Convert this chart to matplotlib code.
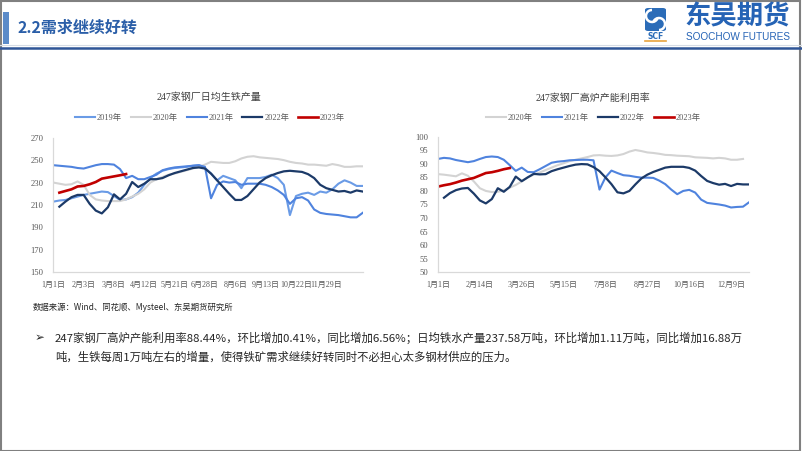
import matplotlib.pyplot as plt
from matplotlib.patches import Rectangle, FancyBboxPatch, Arc
from matplotlib.lines import Line2D
import numpy as np

plt.rcParams['font.family'] = ['Liberation Serif', 'Noto Sans CJK SC', 'DejaVu Sans']

W, H = 802, 451
nan = np.nan

# ---- data: 247 steel mills daily hot metal output (万吨/日), weekly ----
iron_ticks = ['1月1日', '2月3日', '3月8日', '4月12日', '5月21日', '6月28日',
              '8月6日', '9月13日', '10月22日', '11月29日']
iron_2019 = [213, 214, 214.5, 216, 217.5, 219, 220, 221, 222, 221.5,
             218, 214.5, 215, 217, 221, 228, 234, 238, 240.5, 242,
             243, 243.5, 244, 245, 245.5, 243, 238, 232, 236, 234,
             232, 225, 234, 234, 234, 235, 237, 234, 228, 201,
             218, 220, 221, 219, 222, 221, 224, 229, 232, 230,
             227, 227]
iron_2020 = [230, 229, 228, 228.5, 231, 228, 219, 215, 214, 213.5,
             213.5, 213.5, 215, 217.5, 220, 224, 230, 233, 235, 237,
             238, 239.5, 241, 242.5, 244, 246, 248.5, 248, 247.5, 247.5,
             249, 251.5, 253, 253.5, 252.5, 252, 251.5, 251, 250, 248.5,
             247.5, 247, 246, 246, 245.5, 245, 246.5, 245.5, 244, 244,
             244.5, 244.5]
iron_2021 = [245.5, 245, 244.5, 244, 243, 242.5, 244, 245.5, 246.5, 246.5,
             246, 242, 234, 236, 233, 233, 235, 237, 241, 242.5,
             243.5, 244, 244.5, 245, 245.5, 244, 216, 228, 231, 230,
             230.5, 228, 229, 229, 229, 228, 226, 223, 219, 211,
             216, 217, 214, 206, 203, 202, 201.5, 201, 200, 199,
             199, 203]
iron_2022 = [nan, 208.5, 213, 217, 219, 219, 211, 205, 202.5, 208,
             219.5, 215, 220, 230.5, 226, 229, 233, 233, 234, 236.5,
             238.5, 240, 241.5, 243, 243.5, 242.5, 238, 232, 226, 220,
             214.5, 214.5, 218, 224, 230, 234, 236.5, 238.5, 240, 240.5,
             240, 239.5, 237.5, 234, 228, 225, 223.5, 222, 222.5, 221,
             223, 222]
iron_2023 = [nan, 221, 222.5, 224, 226.5, 227, 228.5, 230.5, 233.5, 234.5,
             235.5, 236.5, 237.58]

# ---- data: 247 steel mills blast furnace capacity utilisation (%) ----
util_ticks = ['1月1日', '2月14日', '3月26日', '5月15日', '7月8日', '8月27日',
              '10月16日', '12月9日']
util_2020 = [86.2, 86, 85.7, 85.4, 86.5, 85.6, 83.5, 81, 80, 79.6,
             79.7, 80.2, 81.2, 82.2, 83.5, 85, 86, 86.8, 87.7, 88.6,
             89.5, 90.2, 91, 91.5, 92, 92.5, 93.1, 93.2, 93, 92.9,
             93.1, 93.6, 94.5, 95.1, 94.7, 94.2, 94, 93.7, 93.3, 93.2,
             93, 92.9, 92.8, 92.4, 92.3, 92.2, 92, 92.2, 92, 91.5,
             91.5, 91.8]
util_2021 = [91.8, 92.2, 92, 91.4, 91, 90.6, 91, 91.8, 92.5, 92.7,
             92.5, 91.5, 89.5, 87.4, 88.6, 87, 86.9, 88, 89.2, 90.4,
             90.8, 91, 91.3, 91.4, 91.5, 91.5, 91.3, 80.5, 85, 87.5,
             86.6, 85.8, 85.6, 85.2, 84.9, 84.9, 84.8, 83.8, 82.5, 80.5,
             78.8, 80, 80.4, 79.4, 76.8, 75.6, 75.3, 75, 74.6, 73.9,
             74.1, 74.2, 75.8]
util_2022 = [nan, 77.5, 79.2, 80.3, 80.9, 81.1, 79, 76.5, 75.4, 77,
             81, 79.7, 81.5, 85.3, 83.6, 85, 86.3, 86.1, 86.2, 87.3,
             88, 88.6, 89.2, 89.7, 89.9, 89.8, 88.8, 87.3, 85, 82.5,
             79.5, 79.1, 80, 82.4, 84.6, 86, 87, 87.8, 88.6, 88.9,
             88.9, 88.9, 88.5, 87.5, 85.5, 83.7, 82.9, 82.3, 82.6, 81.8,
             82.6, 82.4, 82.4]
util_2023 = [81.6, 82.1, 82.5, 83.1, 83.8, 84.3, 84.8, 85.7, 86.6, 86.9,
             87.4, 88.0, 88.44]

c2019 = '#6A9BE6'
c2020 = '#D3D3D3'
c2021 = '#4F83DE'
c2022 = '#1C3A68'
c2023 = '#C00000'
tick_col = '#595959'
blue = '#2A5EA8'


def fx(x):
    return x / W


def fy(y):
    return 1 - y / H


fig = plt.figure(figsize=(W / 100, H / 100), dpi=100)
fig.patch.set_facecolor('white')

# slide frame
fig.add_artist(Rectangle((0.001, 0.001), 0.997, 0.997, transform=fig.transFigure,
                         fill=False, edgecolor='#808080', linewidth=1.5))

# header
fig.add_artist(Rectangle((fx(3), fy(44)), fx(6), 32 / H, transform=fig.transFigure,
                         facecolor='#5B8BC9', edgecolor='none'))
fig.text(fx(18), fy(28), '2.2需求继续好转', fontsize=11.5, fontweight='bold',
         color=blue, family=['Noto Sans CJK SC'], va='center', ha='left')
fig.add_artist(Line2D([0, 1], [fy(45), fy(45)], transform=fig.transFigure,
                      color='#D6DCE5', linewidth=0.8))
fig.add_artist(Line2D([0, 1], [fy(47.5), fy(47.5)], transform=fig.transFigure,
                      color='#2F5597', linewidth=1.8))

# logo
fig.add_artist(FancyBboxPatch((fx(645), fy(31)), fx(21), 23 / H,
                              boxstyle='round,pad=0,rounding_size=0.004',
                              transform=fig.transFigure,
                              facecolor='#2B6CB8', edgecolor='none'))
fig.add_artist(Arc((fx(652), fy(16)), fx(12), 12 / H, theta1=90, theta2=330,
                   transform=fig.transFigure, color='white', linewidth=1.8))
fig.add_artist(Arc((fx(659), fy(24)), fx(12), 12 / H, theta1=270, theta2=150,
                   transform=fig.transFigure, color='white', linewidth=1.8))
fig.text(fx(655.5), fy(36.5), 'SCF', fontsize=5.5, fontweight='bold', color='#2B6CB8',
         family=['DejaVu Sans'], ha='center', va='center')
fig.add_artist(Line2D([fx(645), fx(666)], [fy(40.5), fy(40.5)], transform=fig.transFigure,
                      color='#E8A33D', linewidth=1.2))
fig.text(fx(737), fy(17), '东吴期货', fontsize=19, fontweight='bold', color='#2563B5',
         family=['Noto Sans CJK SC'], ha='center', va='center')
fig.text(fx(738), fy(37.5), 'SOOCHOW FUTURES', fontsize=7.2, color='#2563B5',
         family=['Liberation Sans'], ha='center', va='center')


def draw_chart(ax, series, ticks, step, ylo, yhi, ystep, title, tcx, legx, legy):
    for label, vals, col, lw in series:
        ax.plot(np.arange(len(vals)), vals, color=col, linewidth=lw, label=label,
                solid_joinstyle='round')
    n = max(len(s[1]) for s in series)
    ax.set_xlim(0, n - 1)
    ax.set_ylim(ylo, yhi)
    ax.set_yticks(np.arange(ylo, yhi + 0.1, ystep))
    ax.set_xticks(np.arange(len(ticks)) * step)
    ax.set_xticklabels(ticks)
    ax.tick_params(axis='both', length=0, labelsize=6.2, colors=tick_col)
    ax.tick_params(axis='x', pad=6, labelsize=5.8)
    ax.tick_params(axis='y', pad=7)
    for s in ['top', 'right']:
        ax.spines[s].set_visible(False)
    for s in ['left', 'bottom']:
        ax.spines[s].set_color('#D9D9D9')
        ax.spines[s].set_linewidth(0.9)
    leg = ax.legend(loc='center', bbox_to_anchor=(legx, legy), ncol=len(series),
                    frameon=False, fontsize=6, handlelength=2.4,
                    handletextpad=0.2, columnspacing=1.1)
    for t in leg.get_texts():
        t.set_color(tick_col)
    fig.text(fx(tcx), fy(97.7), title, fontsize=7.2, color='#404040',
             ha='center', va='center')


ax1 = fig.add_axes([fx(53.3), fy(272.3), (362.7 - 53.3) / W, (272.3 - 137.7) / H])
draw_chart(ax1,
           [('2019年', iron_2019, c2019, 1.5),
            ('2020年', iron_2020, c2020, 1.5),
            ('2021年', iron_2021, c2021, 1.5),
            ('2022年', iron_2022, c2022, 1.6),
            ('2023年', iron_2023, c2023, 1.9)],
           iron_ticks, 5, 150, 270, 20, '247家钢厂日均生铁产量', 209, 0.506, 1.144)

ax2 = fig.add_axes([fx(438), fy(272.3), (749 - 438) / W, (272.3 - 136.7) / H])
draw_chart(ax2,
           [('2020年', util_2020, c2020, 1.5),
            ('2021年', util_2021, c2021, 1.5),
            ('2022年', util_2022, c2022, 1.6),
            ('2023年', util_2023, c2023, 1.9)],
           util_ticks, 7, 50, 100, 5, '247家钢厂高炉产能利用率', 593, 0.50, 1.136)

# notes
cjk = ['Noto Sans CJK SC', 'DejaVu Sans']
fig.text(fx(33), fy(307.5), '数据来源：Wind、同花顺、Mysteel、东吴期货研究所',
         fontsize=6, color='#262626', family=cjk, ha='left', va='center')
fig.text(fx(35), fy(337.5), '➢', fontsize=8.5, color='#262626', family=['DejaVu Sans'],
         ha='left', va='center')
fig.text(fx(55), fy(337.5),
         '247家钢厂高炉产能利用率88.44%，环比增加0.41%，同比增加6.56%；日均铁水产量237.58万吨，'
         '环比增加1.11万吨，同比增加16.88万',
         fontsize=8.2, color='#262626', family=cjk, ha='left', va='center')
fig.text(fx(55), fy(356.5),
         '吨，生铁每周1万吨左右的增量，使得铁矿需求继续好转同时不必担心太多钢材供应的压力。',
         fontsize=8.2, color='#262626', family=cjk, ha='left', va='center')

fig.savefig('out.png', dpi=100)
